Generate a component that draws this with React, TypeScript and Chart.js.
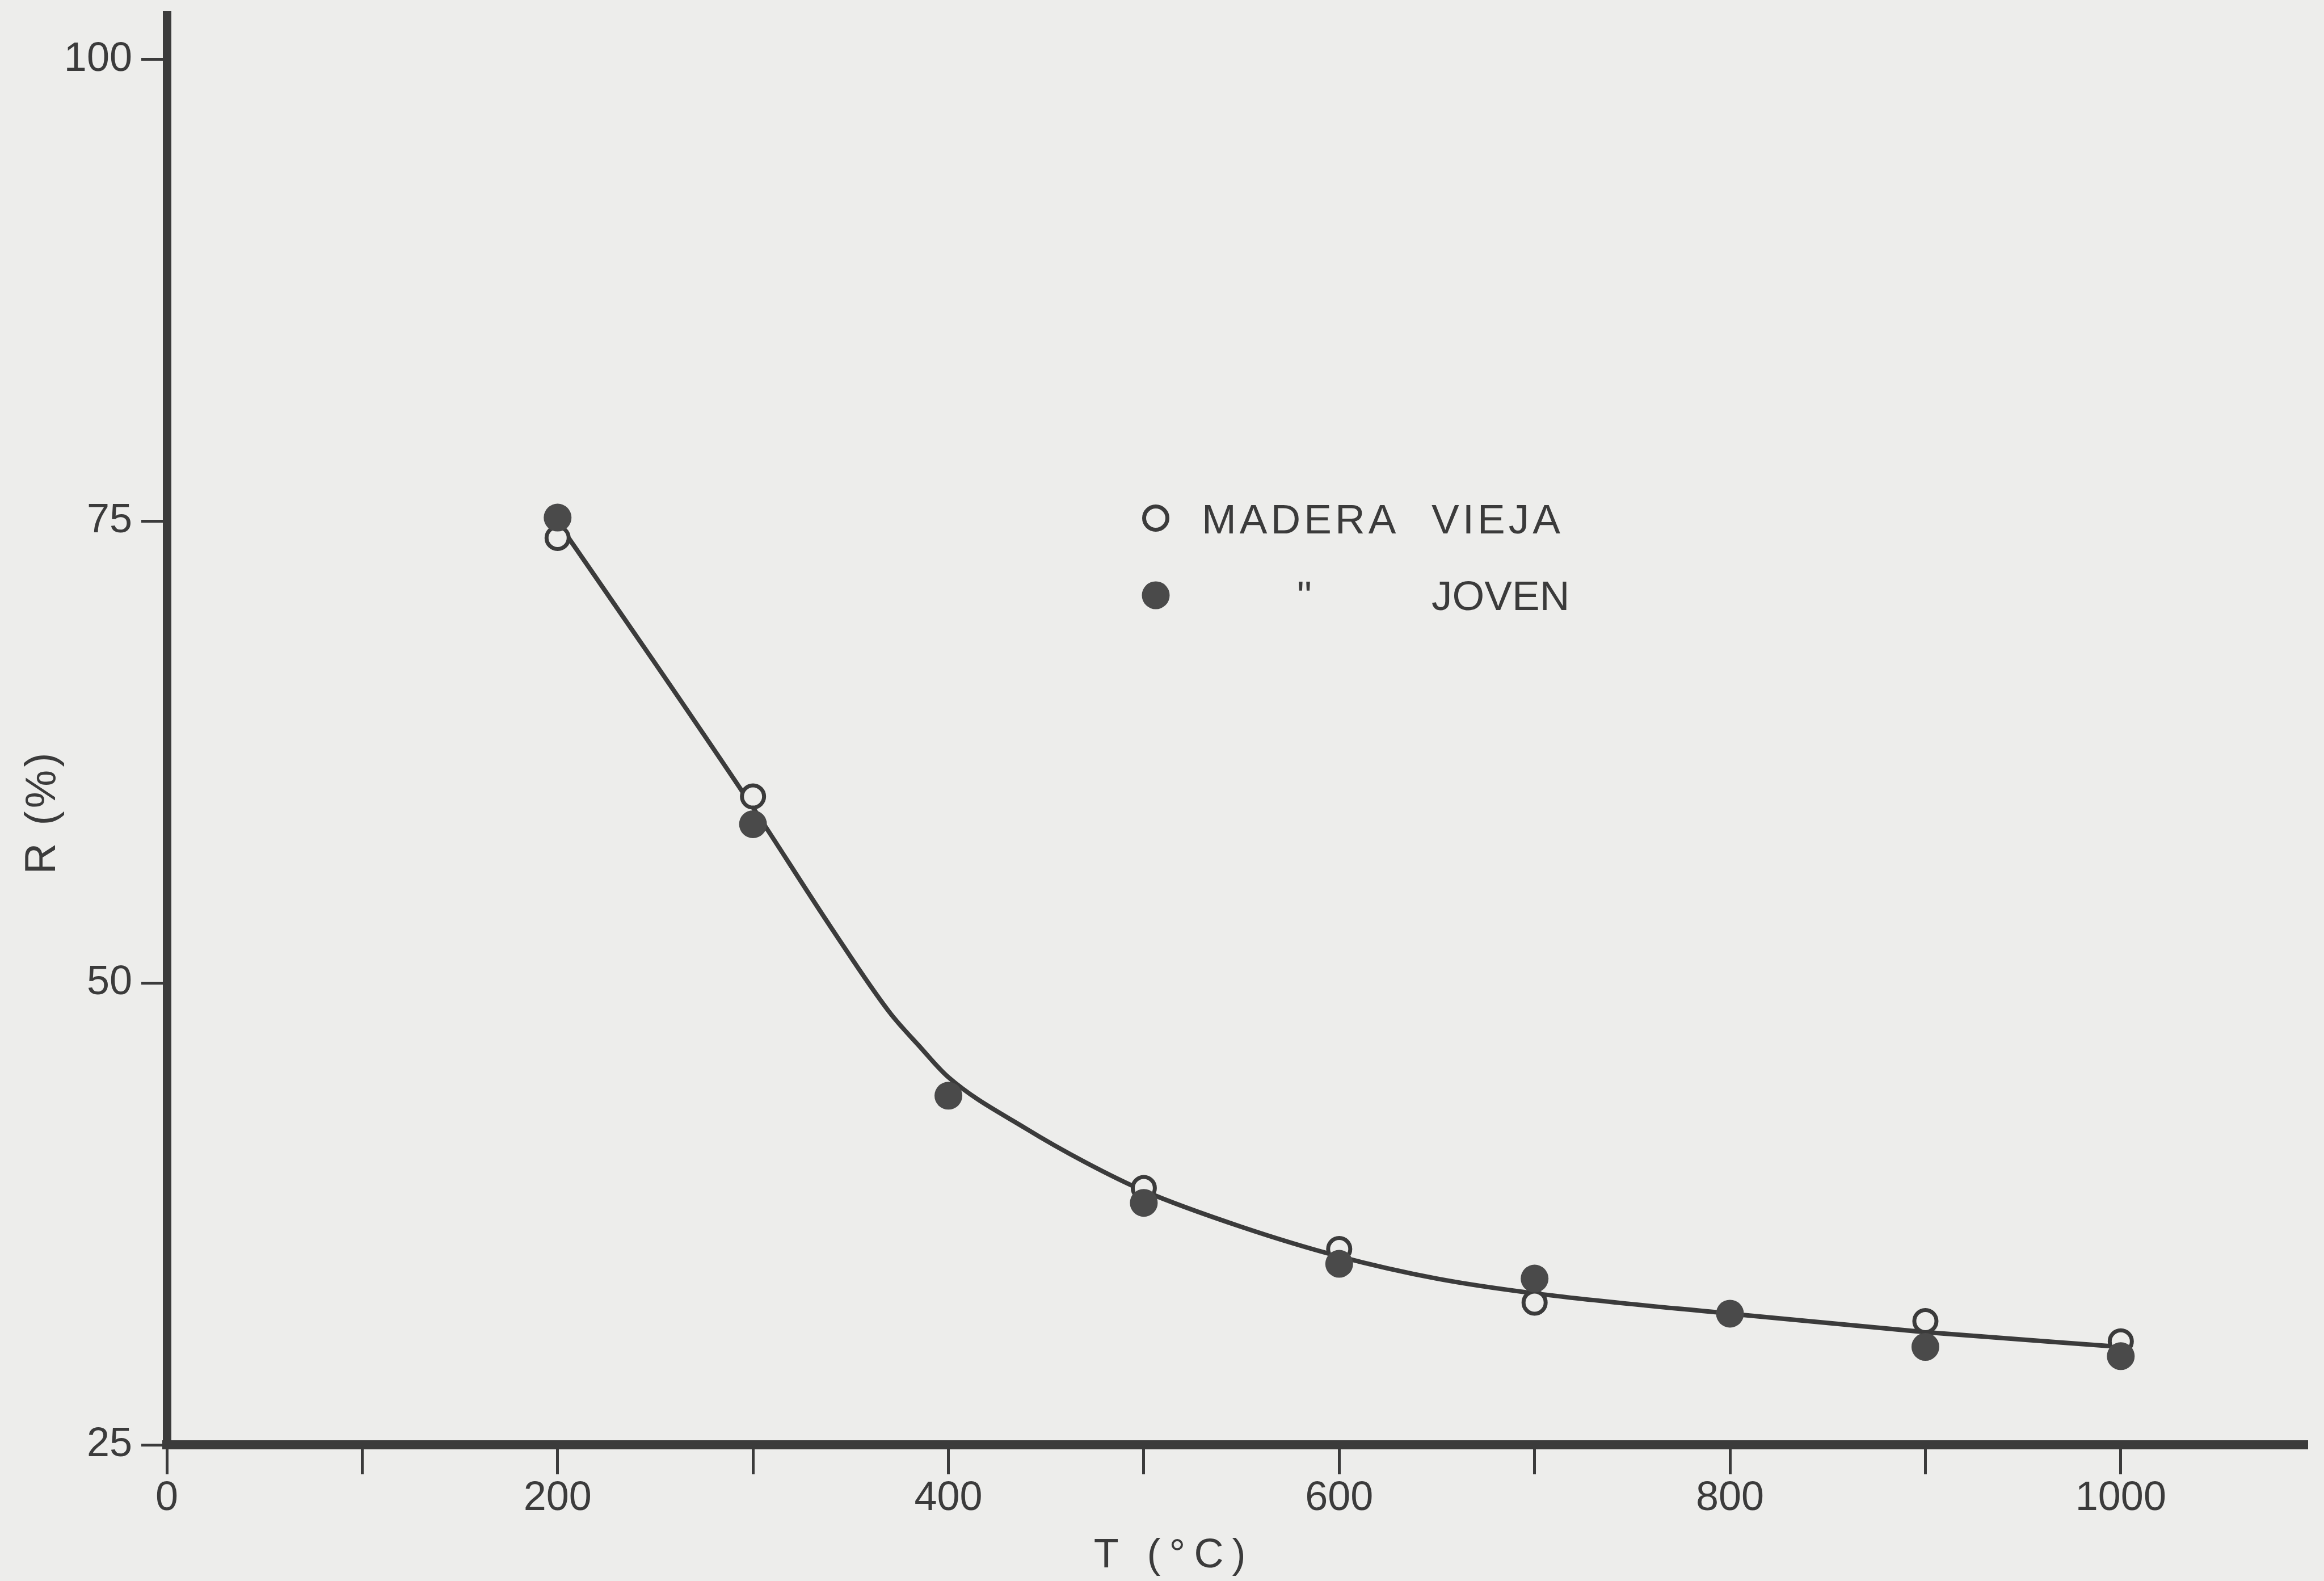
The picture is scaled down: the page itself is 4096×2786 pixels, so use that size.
import React, { useEffect, useRef } from 'react';
import { Chart, registerables } from 'chart.js';

Chart.register(...registerables);

// ---- data ----
const temps = [200, 300, 400, 500, 600, 700, 800, 900, 1000];
const maderaVieja: (number | null)[] = [74.1, 60.1, null, 38.9, 35.6, 32.7, null, 31.7, 30.6];
const maderaJoven: number[] = [75.2, 58.6, 43.9, 38.1, 34.8, 34.0, 32.1, 30.3, 29.8];

// fitted curve drawn through the points
const curveT = [203, 250, 300, 340, 370, 385, 400, 440, 470, 500, 550, 600, 650, 700, 800, 900, 1000];
const curveR = [74.5, 67.3, 59.5, 53.0, 48.4, 46.6, 44.9, 42.1, 40.3, 38.75, 36.8, 35.2, 34.0, 33.2, 32.1, 31.1, 30.3];

const xTickValues = [0, 100, 200, 300, 400, 500, 600, 700, 800, 900, 1000];
const xTickLabels = ['0', '', '200', '', '400', '', '600', '', '800', '', '1000'];
const yTickValues = [25, 50, 75, 100];
const yTickLabels = ['25', '50', '75', '100'];

const legendLabels = ['MADERA', 'VIEJA', '"', 'JOVEN'];
const xTitle = 'T (°C)';
const yTitle = 'R (%)';

// ---- style ----
const W = 4096;
const H = 2786;
const PAPER = '#ededeb';
const INK = '#3b3b3b';
const DOT = '#4a4a4a';
const FONT = '"Liberation Sans", Arial, sans-serif';

const paperPlugin = {
  id: 'paper',
  beforeDraw(chart: any) {
    const c = chart.ctx;
    c.save();
    c.fillStyle = PAPER;
    c.fillRect(0, 0, chart.width, chart.height);
    c.restore();
  },
};

const overlayPlugin = {
  id: 'overlay',
  afterDraw(chart: any) {
    const c = chart.ctx as CanvasRenderingContext2D & { letterSpacing?: string };
    c.save();
    c.fillStyle = INK;
    c.font = `73px ${FONT}`;
    c.textBaseline = 'alphabetic';
    c.textAlign = 'left';
    // legend text
    c.letterSpacing = '6px';
    c.fillText(legendLabels[0], 2118, 940);
    c.fillText(legendLabels[1], 2523, 940);
    c.letterSpacing = '0px';
    c.fillText(legendLabels[2], 2286, 1075);
    c.fillText(legendLabels[3], 2523, 1075);
    // legend markers
    c.beginPath();
    c.arc(2037, 913, 20.5, 0, Math.PI * 2);
    c.fillStyle = PAPER;
    c.fill();
    c.lineWidth = 7;
    c.strokeStyle = INK;
    c.stroke();
    c.beginPath();
    c.arc(2037, 1049, 24.5, 0, Math.PI * 2);
    c.fillStyle = DOT;
    c.fill();
    // x title
    c.fillStyle = INK;
    c.font = `72px ${FONT}`;
    c.textAlign = 'center';
    c.letterSpacing = '15px';
    c.fillText(xTitle, 2062 + 7, 2762);
    // y title
    c.font = `76px ${FONT}`;
    c.letterSpacing = '5px';
    c.translate(76, 1433);
    c.rotate(-Math.PI / 2);
    c.textBaseline = 'middle';
    c.fillText(yTitle, 2, 0);
    c.restore();
  },
};

export default function App() {
  const ref = useRef<HTMLCanvasElement>(null);

  useEffect(() => {
    const canvas = ref.current;
    if (!canvas) return;
    const viejaPts = temps
      .map((t, i) => ({ x: t, y: maderaVieja[i] }))
      .filter((p) => p.y !== null) as { x: number; y: number }[];
    const jovenPts = temps.map((t, i) => ({ x: t, y: maderaJoven[i] }));
    const curvePts = curveT.map((t, i) => ({ x: t, y: curveR[i] }));

    const chart = new Chart(canvas, {
      type: 'line',
      data: {
        datasets: [
          {
            type: 'scatter',
            label: 'JOVEN',
            data: jovenPts,
            showLine: false,
            pointRadius: 24.5,
            pointBackgroundColor: DOT,
            pointBorderWidth: 0,
            order: 0,
          } as any,
          {
            type: 'scatter',
            label: 'MADERA VIEJA',
            data: viejaPts,
            showLine: false,
            pointRadius: 19.5,
            pointBackgroundColor: PAPER,
            pointBorderColor: INK,
            pointBorderWidth: 7,
            order: 1,
          } as any,
          {
            type: 'line',
            label: 'curve',
            data: curvePts,
            borderColor: INK,
            borderWidth: 8,
            pointRadius: 0,
            fill: false,
            cubicInterpolationMode: 'monotone',
            order: 2,
          } as any,
        ],
      },
      options: {
        responsive: false,
        animation: false,
        devicePixelRatio: 1,
        events: [],
        layout: { padding: { left: 0, right: 31, top: 16, bottom: 0 } },
        plugins: {
          legend: { display: false },
          tooltip: { enabled: false },
          title: { display: false },
        },
        scales: {
          x: {
            type: 'linear',
            position: 'bottom',
            min: 0,
            max: 1095,
            afterBuildTicks: (s: any) => {
              s.ticks = xTickValues.map((v) => ({ value: v }));
            },
            afterFit: (s: any) => {
              s.height = 240;
              s.paddingLeft = 0;
              s.paddingRight = 0;
            },
            ticks: {
              autoSkip: false,
              maxRotation: 0,
              padding: 0,
              color: INK,
              font: { family: FONT, size: 72 },
              callback: (v: any) => {
                const i = xTickValues.indexOf(Number(v));
                return i >= 0 ? xTickLabels[i] : '';
              },
            },
            grid: {
              drawOnChartArea: false,
              drawTicks: true,
              tickLength: 52,
              tickWidth: 5,
              tickColor: INK,
              color: INK,
              lineWidth: 5,
            },
            border: { display: true, width: 16, color: INK },
          },
          y: {
            type: 'linear',
            position: 'left',
            min: 25,
            max: 102.41,
            afterBuildTicks: (s: any) => {
              s.ticks = yTickValues.map((v) => ({ value: v }));
            },
            afterFit: (s: any) => {
              s.width = 294;
              s.paddingTop = 0;
              s.paddingBottom = 0;
            },
            ticks: {
              autoSkip: false,
              padding: 16,
              color: INK,
              font: { family: FONT, size: 72 },
              callback: (v: any) => {
                const i = yTickValues.indexOf(Number(v));
                return i >= 0 ? yTickLabels[i] : '';
              },
            },
            grid: {
              drawOnChartArea: false,
              drawTicks: true,
              tickLength: 45,
              tickWidth: 5,
              tickColor: INK,
              color: INK,
              lineWidth: 5,
            },
            border: { display: true, width: 15, color: INK },
          },
        },
      } as any,
      plugins: [paperPlugin, overlayPlugin],
    });

    return () => chart.destroy();
  }, []);

  return (
    <div style={{ position: 'fixed', left: 0, top: 0, width: W, height: H, background: PAPER }}>
      <canvas ref={ref} width={W} height={H} style={{ width: W, height: H, display: 'block' }} />
    </div>
  );
}
